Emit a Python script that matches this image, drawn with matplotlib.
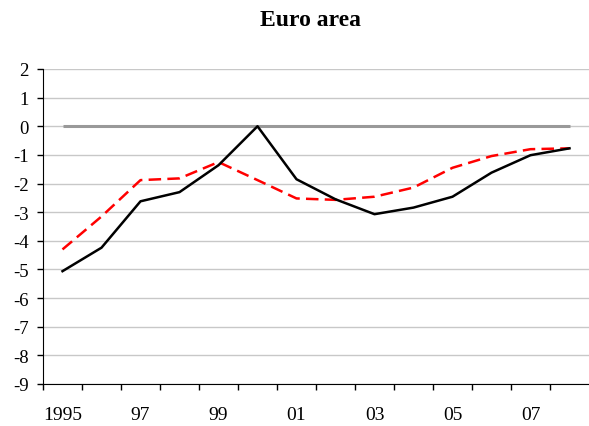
import matplotlib
matplotlib.use("Agg")
import matplotlib.pyplot as plt
import numpy as np

plt.rcParams['font.family'] = ['Liberation Serif', 'DejaVu Serif']
plt.rcParams['axes.unicode_minus'] = False

years = ["1995", "96", "97", "98", "99", "2000", "01", "02", "03", "04", "05", "06", "07", "08"]
tick_labels = ["1995", "", "97", "", "99", "", "01", "", "03", "", "05", "", "07", ""]
black_series = [-5.06, -4.24, -2.62, -2.30, -1.36, 0.0, -1.85, -2.55, -3.07, -2.84, -2.46, -1.62, -1.01, -0.77]
red_series = [-4.30, -3.15, -1.88, -1.82, -1.25, -1.88, -2.52, -2.57, -2.46, -2.14, -1.45, -1.04, -0.80, -0.77]
zero_series = [0.0] * 14
yticks = list(range(-9, 3))

fig = plt.figure(figsize=(5.89, 4.27), dpi=100)
ax = fig.add_axes([43/589, 1 - 385/427, 546/589, 315/427])

x = np.arange(len(years))
ax.plot(x, zero_series, color='#999999', lw=2.2, solid_capstyle='butt', zorder=2)
ax.plot(x, black_series, color='black', lw=1.8, zorder=4)
ax.plot(x, red_series, color='#ff0000', lw=1.8, dashes=(5, 2.5), zorder=3)

ax.set_xlim(-0.5, 13.5)
ax.set_ylim(-9, 2)
ax.set_yticks(yticks)
ax.set_yticklabels([str(v) for v in yticks])
ax.yaxis.grid(True, color='#c8c8c8', lw=1)
ax.set_axisbelow(True)

ax.set_xticks(np.arange(-0.5, 13.0, 1.0))
ax.set_xticklabels([])
ax.set_xticks(x, minor=True)
ax.set_xticklabels(tick_labels, minor=True)
ax.tick_params(axis='x', which='major', length=4, width=1, direction='out')
ax.tick_params(axis='x', which='minor', length=0, pad=16, labelsize=14)
ax.tick_params(axis='y', length=4.3, width=1, direction='out', labelsize=13.5, pad=6)

for s in ['top', 'right']:
    ax.spines[s].set_visible(False)
ax.spines['left'].set_color('black')
ax.spines['bottom'].set_color('black')

fig.text(310/589, 1 - 20/427, "Euro area", ha='center', va='center', fontsize=17, fontweight='bold')

fig.savefig("out.png", dpi=100)
